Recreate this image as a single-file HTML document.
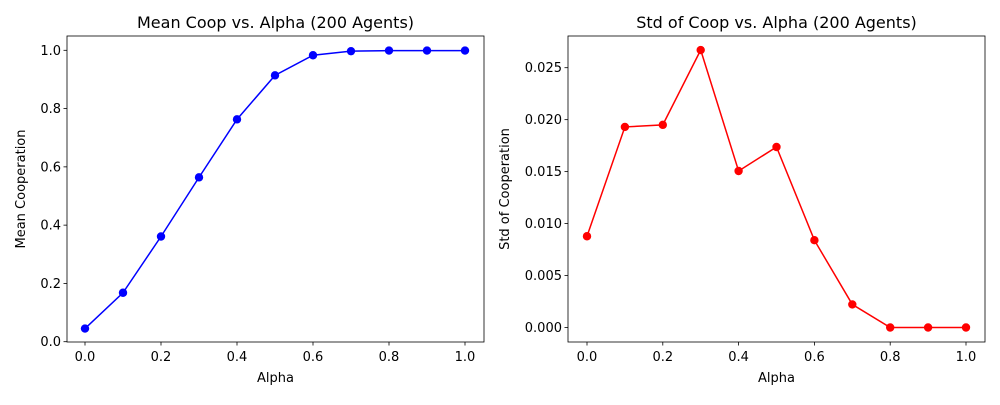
<!DOCTYPE html>
<html><head><meta charset="utf-8"><style>
body{margin:0;background:#fff}
svg text{font-family:"DejaVu Sans","Liberation Sans",sans-serif;fill:#000}
</style></head><body>
<svg id="fig" width="1000" height="400" viewBox="0 0 1000 400" xmlns="http://www.w3.org/2000/svg"></svg>
<script>
const alphas=[0,0.1,0.2,0.3,0.4,0.5,0.6,0.7,0.8,0.9,1.0];
const meanCoop=[0.045,0.168,0.361,0.564,0.763,0.914,0.983,0.997,0.999,0.999,0.999];
const stdCoop=[0.00878,0.0193,0.0195,0.0267,0.01506,0.01737,0.0084,0.00222,0,0,0];
const xTicks=[0,0.2,0.4,0.6,0.8,1.0];
const xTickLabels=["0.0","0.2","0.4","0.6","0.8","1.0"];
const meanTicks=[0,0.2,0.4,0.6,0.8,1.0];
const meanTickLabels=["0.0","0.2","0.4","0.6","0.8","1.0"];
const stdTicks=[0,0.005,0.01,0.015,0.02,0.025];
const stdTickLabels=["0.000","0.005","0.010","0.015","0.020","0.025"];
const NS="http://www.w3.org/2000/svg";
const svg=document.getElementById('fig');
function mk(tag,attrs,parent){const e=document.createElementNS(NS,tag);for(const k in attrs)e.setAttribute(k,attrs[k]);(parent||svg).appendChild(e);return e;}
function panel(p){
  const g=mk('g',{});
  
  
  const xs=v=>p.x0+(v-p.xmin)/(p.xmax-p.xmin)*(p.x1-p.x0);
  const ys=v=>p.y0-(v-p.ymin)/(p.ymax-p.ymin)*(p.y0-p.y1);
  xTicks.forEach((t,i)=>{const x=xs(t);
    mk('line',{x1:x,x2:x,y1:p.bottom,y2:p.bottom+3.5,stroke:'#000','stroke-width':0.8},g);
    const tx=mk('text',{x:x,y:p.bottom+19,'font-size':13,'text-anchor':'middle'},g);tx.textContent=xTickLabels[i];
    
    });
  p.yt.forEach((t,i)=>{const y=ys(t);
    mk('line',{x1:p.left-3.5,x2:p.left,y1:y,y2:y,stroke:'#000','stroke-width':0.8},g);
    const tx=mk('text',{x:p.left-6,y:y+4.5,'font-size':13,'text-anchor':'end'},g);tx.textContent=p.ytl[i];
    
    });
  const pts=alphas.map((a,i)=>xs(a)+','+ys(p.vals[i])).join(' ');
  const pl=mk('polyline',{points:pts,fill:'none',stroke:p.color,'stroke-width':1.5},g);
  
  
  alphas.forEach((a,i)=>{const c=mk('circle',{cx:xs(a),cy:ys(p.vals[i]),r:4.2,fill:p.color},g);
    
    });
  const fr=mk('rect',{x:p.left,y:p.top,width:p.right-p.left,height:p.bottom-p.top,fill:'none',stroke:'#000','stroke-width':0.8},g);
  
  
  const ti=mk('text',{x:(p.left+p.right)/2,y:28,'font-size':16,'text-anchor':'middle'},g);ti.textContent=p.title;
  
  
  const xl=mk('text',{x:(p.left+p.right)/2,y:382,'font-size':13,'text-anchor':'middle'},g);xl.textContent='Alpha';
  
  
  const cy=(p.top+p.bottom)/2;
  const yl=mk('text',{x:p.ylx,y:cy,'font-size':13,'text-anchor':'middle',transform:`rotate(-90 ${p.ylx} ${cy})`},g);yl.textContent=p.ylabel;
  
  
}
panel({name:'mean-coop-chart',left:67,right:484,top:36,bottom:342,x0:85,x1:465,xmin:0,xmax:1,y0:341.7,y1:50.3,ymin:0,ymax:1,
  yt:meanTicks,ytl:meanTickLabels,vals:meanCoop,color:'#0000ff',title:'Mean Coop vs. Alpha (200 Agents)',ylabel:'Mean Cooperation',ylx:25});
panel({name:'std-coop-chart',left:568,right:985,top:36,bottom:342,x0:587,x1:966,xmin:0,xmax:1,y0:327.5,y1:67.7,ymin:0,ymax:0.025,
  yt:stdTicks,ytl:stdTickLabels,vals:stdCoop,color:'#ff0000',title:'Std of Coop vs. Alpha (200 Agents)',ylabel:'Std of Cooperation',ylx:509});
</script>
</body></html>
